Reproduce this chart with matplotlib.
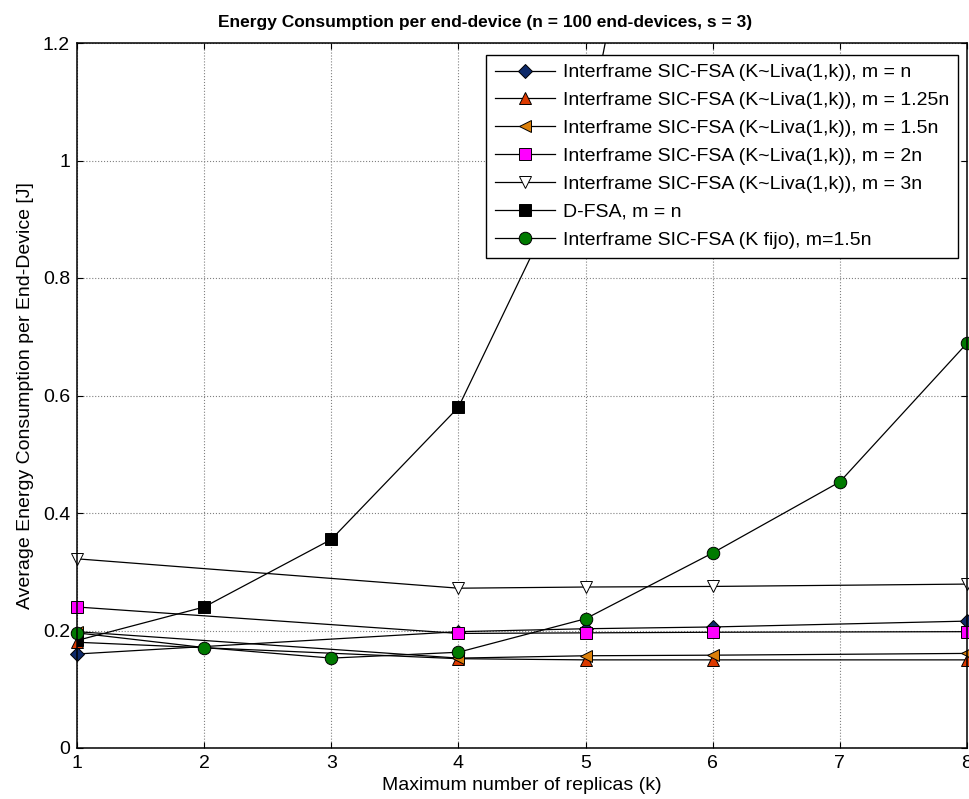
import matplotlib
matplotlib.use("Agg")
import matplotlib.pyplot as plt

plt.rcParams['font.family'] = ['Liberation Sans', 'DejaVu Sans']

# k values for each simulated configuration
k_liva = [1, 4, 5, 6, 8]
k_all = [1, 2, 3, 4, 5, 6, 7, 8]
k_dfsa = [1, 2, 3, 4, 5, 6]

# Average energy per end-device [J]
e_m100 = [0.160, 0.198, 0.203, 0.206, 0.216]
e_m125 = [0.180, 0.152, 0.150, 0.150, 0.150]
e_m150 = [0.198, 0.153, 0.157, 0.158, 0.161]
e_m200 = [0.240, 0.195, 0.196, 0.197, 0.198]
e_m300 = [0.322, 0.272, 0.274, 0.275, 0.279]
e_dfsa = [0.183, 0.240, 0.355, 0.580, 1.03, 2.13]
e_kfijo = [0.196, 0.171, 0.153, 0.163, 0.220, 0.332, 0.453, 0.689]

labels = [
    'Interframe SIC-FSA (K~Liva(1,k)), m = n',
    'Interframe SIC-FSA (K~Liva(1,k)), m = 1.25n',
    'Interframe SIC-FSA (K~Liva(1,k)), m = 1.5n',
    'Interframe SIC-FSA (K~Liva(1,k)), m = 2n',
    'Interframe SIC-FSA (K~Liva(1,k)), m = 3n',
    'D-FSA, m = n',
    'Interframe SIC-FSA (K fijo), m=1.5n',
]

x_ticks = [1, 2, 3, 4, 5, 6, 7, 8]
y_ticks = [0, 0.2, 0.4, 0.6, 0.8, 1.0, 1.2]
y_ticklabels = ['0', '0.2', '0.4', '0.6', '0.8', '1', '1.2']

fig = plt.figure(figsize=(9.70, 7.99), dpi=100)
ax = fig.add_axes([77 / 970, 51 / 799, 890 / 970, 705 / 799])

common = dict(color='black', linewidth=0.9, markeredgecolor='black',
              markeredgewidth=0.7)

ax.plot(k_liva, e_m100, marker='D', markersize=7.5,
        markerfacecolor='#0E2A6A', label=labels[0], clip_on=False, **common)
ax.plot(k_liva, e_m125, marker='^', markersize=9,
        markerfacecolor='#DD3A00', label=labels[1], clip_on=False, **common)
ax.plot(k_liva, e_m150, marker='<', markersize=9,
        markerfacecolor='#DB7F0A', label=labels[2], clip_on=False, **common)
ax.plot(k_liva, e_m200, marker='s', markersize=8.5,
        markerfacecolor='#FF00FF', label=labels[3], clip_on=False, **common)
ax.plot(k_liva, e_m300, marker='v', markersize=9,
        markerfacecolor='white', label=labels[4], clip_on=False, **common)
ax.plot(k_dfsa, e_dfsa, marker='s', markersize=8.5,
        markerfacecolor='black', label=labels[5], clip_on=True, **common)
ax.plot(k_all, e_kfijo, marker='o', markersize=9,
        markerfacecolor='#007A00', label=labels[6], clip_on=False, **common)

ax.set_xlim(1, 8)
ax.set_ylim(0, 1.2)
ax.set_xticks(x_ticks)
ax.set_xticklabels([str(v) for v in x_ticks])
ax.set_yticks(y_ticks)
ax.set_yticklabels(y_ticklabels)

ax.grid(True, linestyle=':', color='#808080', linewidth=0.8)
ax.tick_params(direction='in', length=4, width=0.8, top=True, right=True,
               labelsize=14, pad=5)
for sp in ax.spines.values():
    sp.set_linewidth(1.1)

fig.text(485 / 970, 1 - 23 / 799,
         'Energy Consumption per end-device (n = 100 end-devices, s = 3)',
         fontsize=12.5, fontweight='bold', ha='center', va='center')
ax.set_xlabel('Maximum number of replicas (k)', fontsize=14, labelpad=4)
ax.set_ylabel('Average Energy Consumption per End-Device [J]', fontsize=14,
              labelpad=6)

leg = ax.legend(loc='upper right', bbox_to_anchor=(0.9899, 0.983),
                borderaxespad=0, fontsize=14, frameon=True, fancybox=False,
                framealpha=1, edgecolor='black', handlelength=3.1,
                labelspacing=0.53, borderpad=0.45, handletextpad=0.4)
leg.get_frame().set_linewidth(1.0)
leg.set_zorder(5)

fig.savefig('out.png', dpi=100)
